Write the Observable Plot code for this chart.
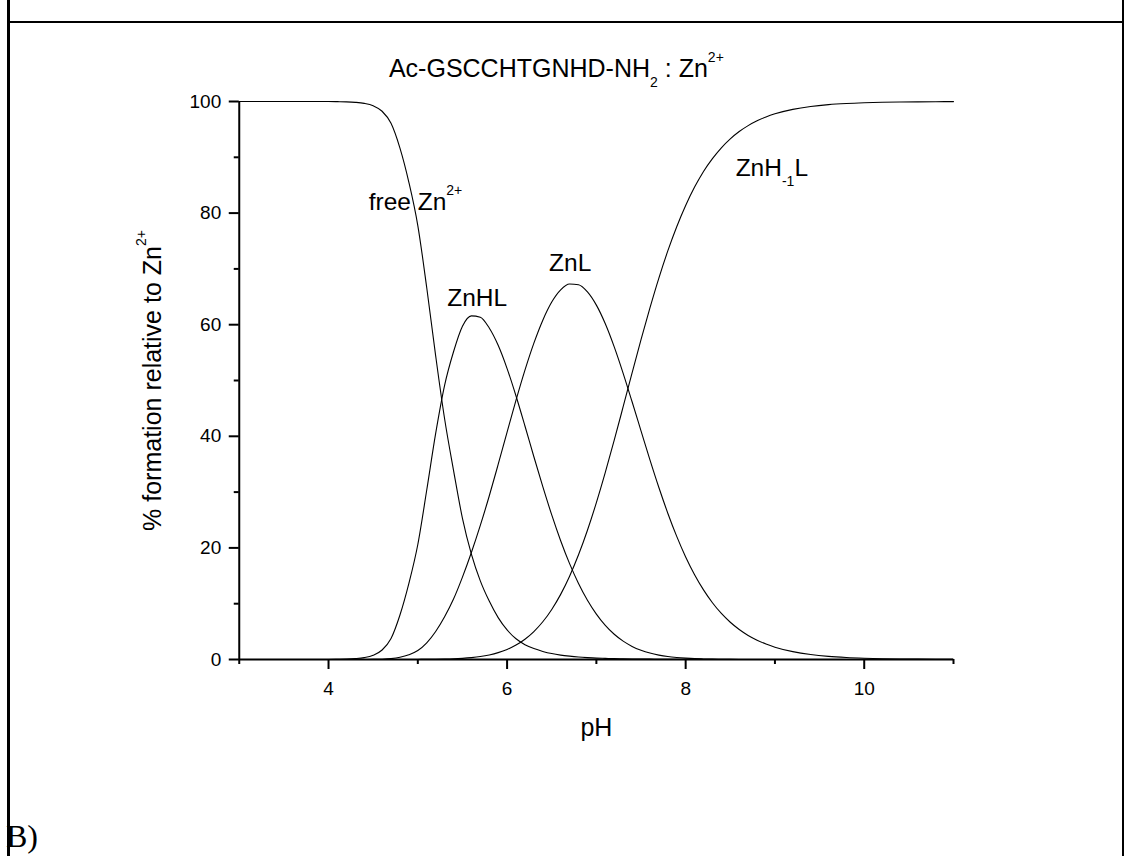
<!DOCTYPE html>
<html>
<head>
<meta charset="utf-8">
<script src="https://cdn.jsdelivr.net/npm/d3@7"></script>
<script src="https://cdn.jsdelivr.net/npm/@observablehq/plot@0.6"></script>
<style>
  html, body { margin: 0; padding: 0; background: #fff; }
  #page { position: relative; width: 1127px; height: 856px; overflow: hidden; }
  .bl { position: absolute; background: #000; }
  #chart { position: absolute; left: 0; top: 0; }
</style>
</head>
<body>
<div id="page">
  <div class="bl" style="left:7px; top:0; width:2.5px; height:856px;"></div>
  <div class="bl" style="left:1121.5px; top:0; width:2.5px; height:856px;"></div>
  <div class="bl" style="left:7px; top:20.5px; width:1117px; height:2.5px;"></div>
  <div id="chart"></div>
</div>
<script>
// ---- data ----
const pH = [3.0, 3.5, 4.0, 4.1, 4.2, 4.3, 4.4, 4.5, 4.6, 4.7, 4.8, 4.9, 5.0, 5.1, 5.2, 5.3, 5.4, 5.5, 5.6, 5.7, 5.8, 5.9,
  6.0, 6.1, 6.2, 6.3, 6.4, 6.5, 6.6, 6.7, 6.8, 6.9, 7.0, 7.1, 7.2, 7.3, 7.4, 7.5, 7.6, 7.7, 7.8, 7.9, 8.0, 8.1, 8.2,
  8.3, 8.4, 8.5, 8.6, 8.7, 8.8, 8.9, 9.0, 9.2, 9.4, 9.6, 9.8, 10.0, 10.2, 10.4, 10.6, 10.8, 11.0];
const freeZn = [100, 100, 99.99, 99.97, 99.94, 99.85, 99.66, 99.23, 98.25, 96.09, 91.64, 85.51, 77.77, 66.62, 54.42,
  43.14, 33.90, 25.3, 18.9, 14.1, 10.47, 7.50, 5.30, 3.72, 2.66, 1.96, 1.45, 1.06, 0.79, 0.60, 0.45, 0.34, 0.25, 0.20,
  0.15, 0.12, 0.09, 0.07, 0.06, 0.04, 0.03, 0.03, 0.02, 0.02, 0.01, 0.01, 0, 0, 0, 0, 0, 0, 0, 0, 0, 0, 0, 0, 0, 0, 0, 0, 0];
const ZnHL = [0, 0, 0.01, 0.03, 0.06, 0.15, 0.33, 0.75, 1.70, 3.76, 7.97, 13.64, 20.61, 30.37, 40.52, 49.13, 55.15,
  59.73, 61.59, 61.34, 59.41, 56.31, 52.14, 47.22, 41.85, 36.34, 30.98, 25.91, 21.29, 17.18, 13.62, 10.61, 8.13, 6.11,
  4.52, 3.29, 2.35, 1.66, 1.15, 0.79, 0.53, 0.36, 0.24, 0.15, 0.10, 0.06, 0.04, 0.02, 0.01, 0, 0, 0, 0, 0, 0, 0, 0, 0,
  0, 0, 0, 0, 0];
const ZnL = [0, 0, 0, 0, 0, 0, 0.01, 0.02, 0.05, 0.15, 0.39, 0.85, 1.61, 2.99, 5.02, 7.66, 10.83, 14.76, 19.17, 24.03,
  29.30, 34.96, 40.75, 46.47, 51.85, 56.69, 60.81, 64.06, 66.25, 67.29, 67.17, 65.88, 63.51, 60.17, 56.03, 51.29, 46.19,
  40.98, 35.77, 30.82, 26.22, 22.06, 18.38, 15.19, 12.47, 10.17, 8.25, 6.67, 5.37, 4.31, 3.46, 2.77, 2.21, 1.41, 0.89,
  0.56, 0.36, 0.23, 0.14, 0.09, 0.06, 0.04, 0.02];
const ZnHm1L = [0, 0, 0, 0, 0, 0, 0, 0, 0, 0, 0, 0, 0.01, 0.02, 0.04, 0.07, 0.12, 0.21, 0.34, 0.53, 0.82, 1.23, 1.80,
  2.59, 3.64, 5.01, 6.76, 8.97, 11.67, 14.93, 18.76, 23.17, 28.11, 33.52, 39.30, 45.30, 51.36, 57.33, 63.02, 68.36,
  73.22, 77.56, 81.37, 84.66, 87.47, 89.77, 91.71, 93.31, 94.62, 95.68, 96.54, 97.23, 97.79, 98.59, 99.11, 99.44,
  99.64, 99.77, 99.86, 99.91, 99.94, 99.96, 99.98];
const seriesNames = ["free Zn2+", "ZnHL", "ZnL", "ZnH-1L"];
const seriesValues = [freeZn, ZnHL, ZnL, ZnHm1L];
// curve labels: rich-text parts (0 normal, 1 superscript, -1 subscript) and anchor in data units
const labelParts = [[["free Zn", 0], ["2+", 1]], [["ZnHL", 0]], [["ZnL", 0]], [["ZnH", 0], ["-1", -1], ["L", 0]]];
const labelPH = [4.45, 5.33, 6.47, 8.56];
const labelPct = [80.6, 63.4, 69.6, 86.7];
const titleParts = [["Ac-GSCCHTGNHD-NH", 0], ["2", -1], [" : Zn", 0], ["2+", 1]];
const yLabelParts = [["% formation relative to Zn", 0], ["2+", 1]];
const xLabel = "pH";
const xMajor = [4, 6, 8, 10];
const xMinor = [3, 5, 7, 9, 11];
const yMajor = [0, 20, 40, 60, 80, 100];
const yMinor = [10, 30, 50, 70, 90];
const panelTag = "B)";

// ---- build table ----
const rows = [];
seriesNames.forEach((name, s) => pH.forEach((x, i) => rows.push({series: name, pH: x, pct: seriesValues[s][i]})));
const labels = labelParts.map((p, i) => ({text: p.map(d => d[0]).join(""), pH: labelPH[i], pct: labelPct[i]}));

const FONT = "'Liberation Sans', Arial, Helvetica, sans-serif";
const plot = Plot.plot({
  width: 1127, height: 856,
  marginLeft: 238.75, marginRight: 174, marginTop: 101, marginBottom: 197,
  style: {fontFamily: FONT, background: "transparent", color: "#000", overflow: "visible"},
  x: {domain: [3, 11], label: null},
  y: {domain: [0, 100], label: null},
  marks: [
    Plot.line(rows, {x: "pH", y: "pct", z: "series", stroke: "#000", strokeWidth: 1.1, curve: "monotone-x"}),
    Plot.axisX({ticks: xMajor, tickSize: 10, tickPadding: 12, fontSize: 19, strokeWidth: 2, label: null}),
    Plot.axisX({ticks: xMinor, tickSize: 5, tickFormat: () => "", strokeWidth: 2, label: null}),
    Plot.axisY({ticks: yMajor, tickSize: 10, tickPadding: 8, fontSize: 19, strokeWidth: 2, label: null}),
    Plot.axisY({ticks: yMinor, tickSize: 5, tickFormat: () => "", strokeWidth: 2, label: null}),
    Plot.ruleY([0], {stroke: "#000", strokeWidth: 2}),
    Plot.ruleX([3], {stroke: "#000", strokeWidth: 2}),
    Plot.text(labels, {x: "pH", y: "pct", text: "text", textAnchor: "start", lineAnchor: "bottom",
      fontSize: 24.5, fill: "#000", className: "curve-label"}),
    Plot.text([titleParts.map(d => d[0]).join("")], {frameAnchor: "top", dx: -40, dy: -33, fontSize: 25, fill: "#000",
      textAnchor: "middle", lineAnchor: "middle", className: "plot-title"}),
    Plot.text([yLabelParts.map(d => d[0]).join("")], {frameAnchor: "left", dx: -78, rotate: -90, fontSize: 25,
      fill: "#000", textAnchor: "middle", lineAnchor: "bottom", className: "y-label"}),
    Plot.text([xLabel], {frameAnchor: "bottom", dy: 68, fontSize: 25, fill: "#000", textAnchor: "middle",
      lineAnchor: "middle"})
  ]
});
document.getElementById("chart").appendChild(plot);

// rich text (sub/superscripts) via tspans
const SVGNS = "http://www.w3.org/2000/svg";
function rich(el, parts, small, up, down) {
  el.textContent = "";
  let cur = 0;
  for (const [t, mode] of parts) {
    const ts = document.createElementNS(SVGNS, "tspan");
    const target = mode === 1 ? -up : mode === -1 ? down : 0;
    const dy = target - cur; cur = target;
    if (dy) ts.setAttribute("dy", dy);
    if (mode) ts.setAttribute("font-size", small);
    ts.textContent = t;
    el.appendChild(ts);
  }
}
const svg = d3.select(plot);
svg.selectAll("g.curve-label text").each(function(d, i) { rich(this, labelParts[i], 14, 15, 10); });
svg.selectAll("g.plot-title text").each(function() { rich(this, titleParts, 14, 15, 10); });
svg.selectAll("g.y-label text").each(function() { rich(this, yLabelParts, 14, 15, 10); });
svg.append("text").attr("x", 22).attr("y", 847).attr("fill", "#000")
  .style("font-family", "'Liberation Serif', 'Times New Roman', serif").style("font-size", "32px").text(panelTag);
</script>
</body>
</html>
